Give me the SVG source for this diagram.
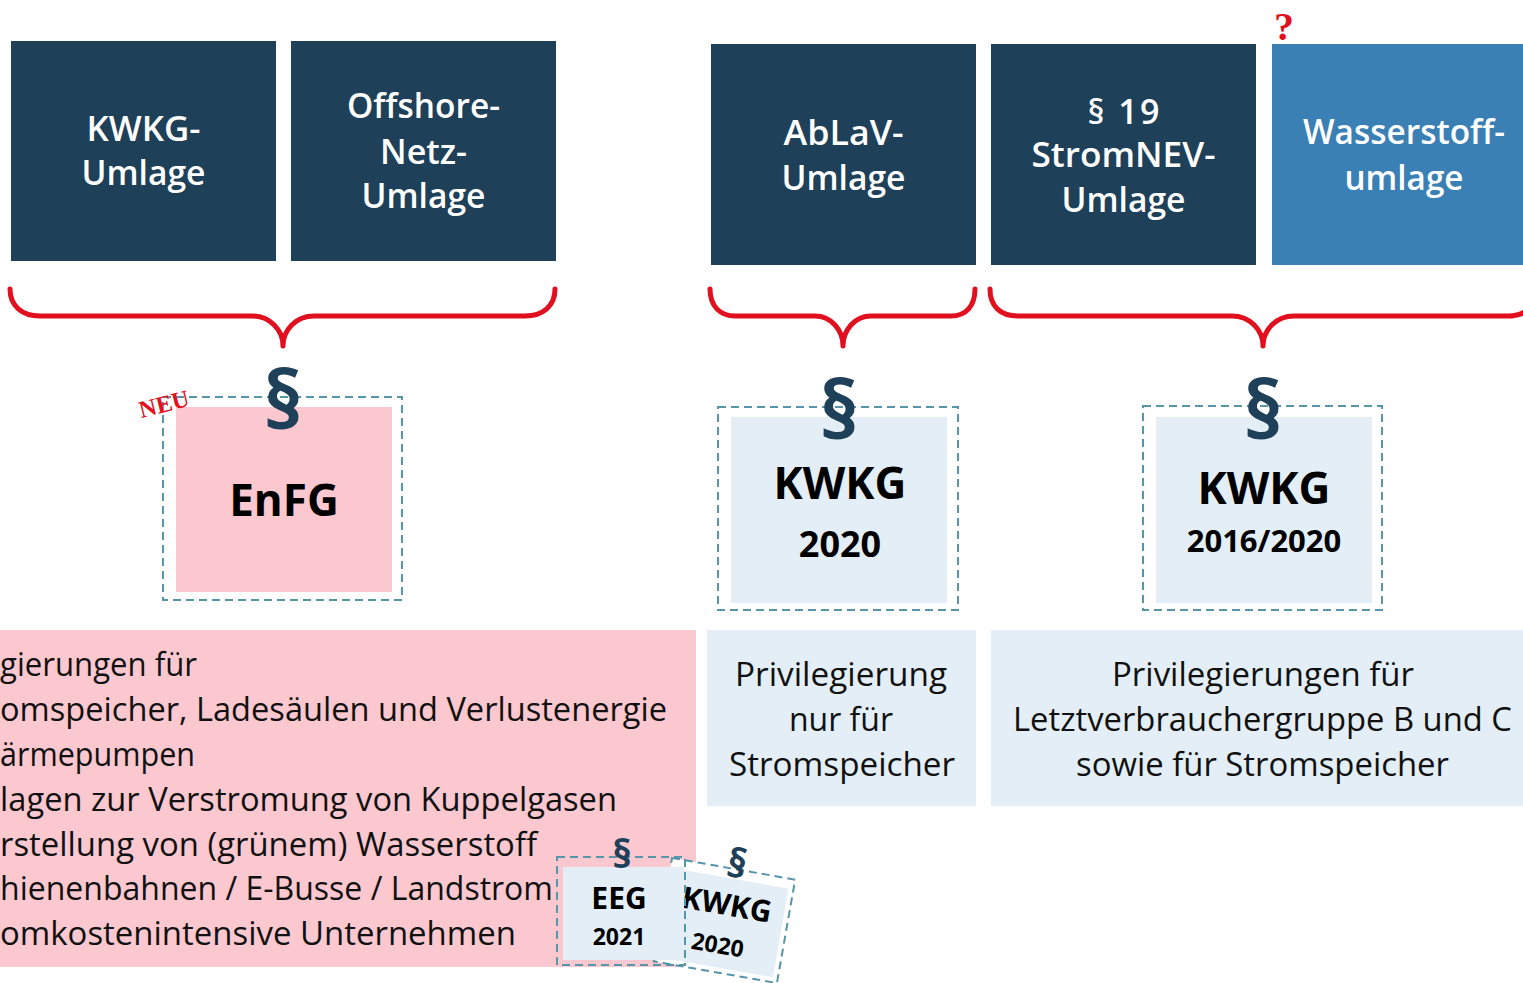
<svg xmlns="http://www.w3.org/2000/svg" width="1523" height="983" viewBox="0 0 1523 983">
<style>
.navy{fill:#1f4059}
.lblue{fill:#3a80b5}
.pale{fill:#e3eef6}
.pink{fill:#fbc8d0}
.dash{fill:none;stroke:#5796a8;stroke-width:2;stroke-dasharray:8 5}
.tw{font-family:"Open Sans","Noto Sans",sans-serif;font-size:34px;font-weight:600;fill:#ffffff;text-anchor:middle}
.big{font-family:"Open Sans","Noto Sans",sans-serif;font-weight:bold;font-size:44px;fill:#000;text-anchor:middle}
.yr{font-family:"Open Sans","Noto Sans",sans-serif;font-weight:bold;fill:#000;text-anchor:middle}
.para{font-family:"Open Sans","Noto Sans",sans-serif;font-weight:bold;fill:#1f4059;text-anchor:middle}
.body{font-family:"Open Sans","Noto Sans",sans-serif;font-size:32px;fill:#111}
.bodyc{font-family:"Open Sans","Noto Sans",sans-serif;font-size:32px;fill:#111;text-anchor:middle}
.red{font-family:"Liberation Serif",serif;font-weight:bold;fill:#e0101f}
.brace{fill:none;stroke:#e0101f;stroke-width:5;stroke-linecap:round;stroke-linejoin:round}
</style>

<g id="kwkg-umlage">
<rect class="navy" x="11" y="41" width="265" height="220"/>
<text class="tw" x="143.5" y="141" textLength="114" lengthAdjust="spacingAndGlyphs">KWKG-</text>
<text class="tw" x="143.5" y="185" textLength="124" lengthAdjust="spacingAndGlyphs">Umlage</text>
</g>
<g id="offshore-umlage">
<rect class="navy" x="291" y="41" width="265" height="220"/>
<text class="tw" x="423.5" y="118" textLength="153" lengthAdjust="spacingAndGlyphs">Offshore-</text>
<text class="tw" x="423.5" y="164">Netz-</text>
<text class="tw" x="423.5" y="208" textLength="124" lengthAdjust="spacingAndGlyphs">Umlage</text>
</g>
<g id="ablav-umlage">
<rect class="navy" x="711" y="44" width="265" height="221"/>
<text class="tw" x="843.5" y="145" textLength="120" lengthAdjust="spacingAndGlyphs">AbLaV-</text>
<text class="tw" x="843.5" y="190" textLength="124" lengthAdjust="spacingAndGlyphs">Umlage</text>
</g>
<g id="stromnev-umlage">
<rect class="navy" x="991" y="44" width="265" height="221"/>
<text class="tw" x="1123.5" y="124" textLength="72" lengthAdjust="spacing">§ 19</text>
<text class="tw" x="1123.5" y="167" textLength="184" lengthAdjust="spacingAndGlyphs">StromNEV-</text>
<text class="tw" x="1123.5" y="212" textLength="124" lengthAdjust="spacingAndGlyphs">Umlage</text>
</g>
<g id="wasserstoff-umlage">
<rect class="lblue" x="1272" y="44" width="251" height="221"/>
<text class="tw" x="1404" y="144" textLength="202" lengthAdjust="spacingAndGlyphs">Wasserstoff-</text>
<text class="tw" x="1404" y="190" textLength="119" lengthAdjust="spacingAndGlyphs">umlage</text>
<text class="red" x="1284" y="40" font-size="40" text-anchor="middle">?</text>
</g>

<g id="connectors">
<path class="brace" d="M10,289 C10,306 22,316 40,316 L252,316 C270,316 283,330 283,346 C283,330 296,316 314,316 L525,316 C543,316 555,306 555,289"/>
<path class="brace" d="M710,289 C710,306 720,316 735,316 L815,316 C831,316 843,330 843,346 C843,330 855,316 871,316 L951,316 C966,316 975,306 975,289"/>
<path class="brace" d="M990,289 C990,306 1000,316 1018,316 L1232,316 C1250,316 1263,330 1263,346 C1263,330 1276,316 1294,316 L1508,316 C1526,316 1536,306 1536,289"/>
</g>

<g id="enfg">
<rect class="dash" x="163" y="397" width="239" height="203"/>
<rect class="pink" x="176" y="407" width="216" height="185"/>
<text class="para" x="283" y="428" font-size="80">§</text>
<text class="big" x="284" y="516">EnFG</text>
<text class="red" x="164" y="412" font-size="24" text-anchor="middle" transform="rotate(-14 164 404)">NEU</text>
</g>

<g id="kwkg-2020">
<rect class="dash" x="718" y="407" width="240" height="203"/>
<rect class="pale" x="731" y="417" width="216" height="186"/>
<text class="para" x="839" y="438" font-size="80">§</text>
<text class="big" x="840" y="499">KWKG</text>
<text class="yr" x="840" y="557" font-size="36">2020</text>
</g>

<g id="kwkg-2016-2020">
<rect class="dash" x="1143" y="406" width="239" height="204"/>
<rect class="pale" x="1156" y="417" width="216" height="186"/>
<text class="para" x="1263" y="438" font-size="80">§</text>
<text class="big" x="1264" y="504">KWKG</text>
<text class="yr" x="1264" y="552" font-size="31">2016/2020</text>
</g>

<g id="enfg-privilegierungen">
<rect class="pink" x="0" y="630" width="696" height="337"/>
<text class="body" x="0" y="676" textLength="197" lengthAdjust="spacingAndGlyphs">gierungen für</text>
<text class="body" x="0" y="721" textLength="667" lengthAdjust="spacingAndGlyphs">omspeicher, Ladesäulen und Verlustenergie</text>
<text class="body" x="0" y="766" textLength="195" lengthAdjust="spacingAndGlyphs">ärmepumpen</text>
<text class="body" x="0" y="811" textLength="617" lengthAdjust="spacingAndGlyphs">lagen zur Verstromung von Kuppelgasen</text>
<text class="body" x="0" y="856" textLength="537" lengthAdjust="spacingAndGlyphs">rstellung von (grünem) Wasserstoff</text>
<text class="body" x="0" y="900" textLength="553" lengthAdjust="spacingAndGlyphs">hienenbahnen / E-Busse / Landstrom</text>
<text class="body" x="0" y="945" textLength="516" lengthAdjust="spacingAndGlyphs">omkostenintensive Unternehmen</text>
</g>

<g id="privileg-stromspeicher">
<rect class="pale" x="707" y="630" width="269" height="176"/>
<text class="bodyc" x="841" y="686" textLength="212" lengthAdjust="spacingAndGlyphs">Privilegierung</text>
<text class="bodyc" x="841" y="731">nur für</text>
<text class="bodyc" x="842" y="776" textLength="226" lengthAdjust="spacingAndGlyphs">Stromspeicher</text>
</g>

<g id="privileg-gruppe-bc">
<rect class="pale" x="991" y="630" width="532" height="176"/>
<text class="bodyc" x="1263" y="686" textLength="302" lengthAdjust="spacingAndGlyphs">Privilegierungen für</text>
<text class="bodyc" x="1262.5" y="731" textLength="499" lengthAdjust="spacingAndGlyphs">Letztverbrauchergruppe B und C</text>
<text class="bodyc" x="1262.5" y="776" textLength="373" lengthAdjust="spacingAndGlyphs">sowie für Stromspeicher</text>
</g>

<g id="kwkg-2020-small" transform="rotate(10 724.5 920.5)">
<rect x="662" y="868" width="125" height="105" fill="#ffffff"/>
<rect class="dash" x="662" y="868" width="125" height="105"/>
<rect class="pale" x="668" y="878" width="114" height="90"/>
<text class="para" x="727" y="876" font-size="40">§</text>
<text class="yr" x="724" y="915" font-size="30">KWKG</text>
<text class="yr" x="722" y="954" font-size="23">2020</text>
</g>

<g id="eeg-2021">
<rect class="dash" x="557" y="857" width="128" height="108"/>
<rect class="pale" x="563" y="867" width="121" height="93"/>
<text class="para" x="622" y="868" font-size="40">§</text>
<text class="yr" x="619" y="909" font-size="30">EEG</text>
<text class="yr" x="619" y="945" font-size="23">2021</text>
</g>
</svg>
